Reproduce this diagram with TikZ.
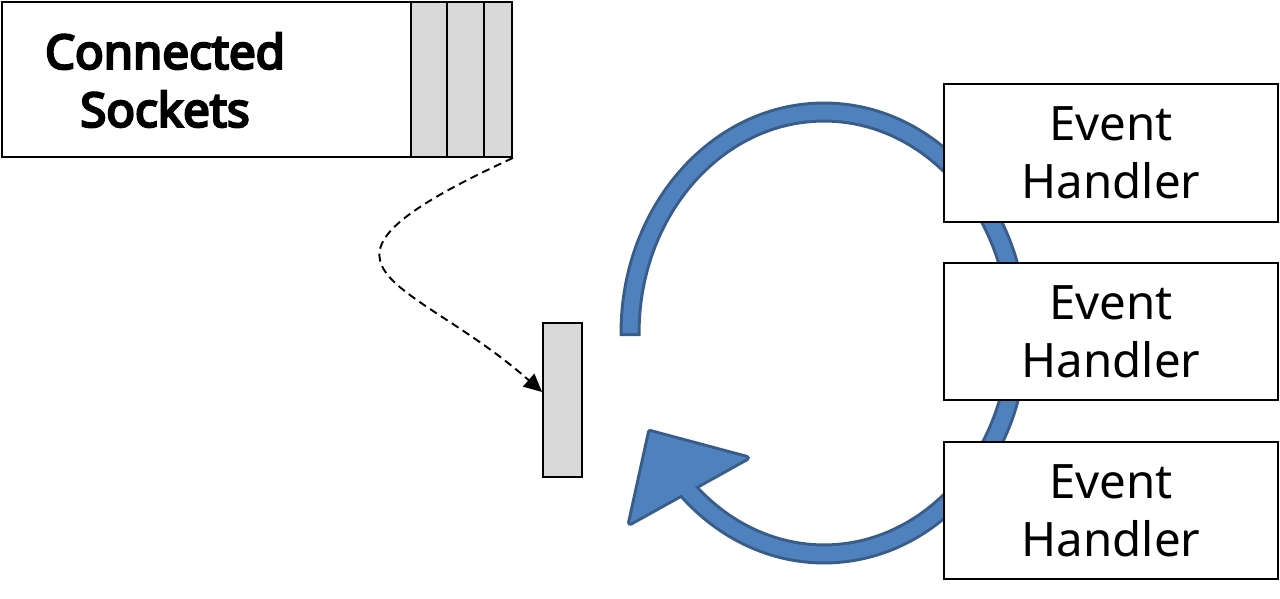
\documentclass[tikz,border=0pt]{standalone}
\usepackage{fontspec}
\setmainfont{Noto Sans}
\newfontfamily\sockfont{Noto Sans}[FakeBold=5]
\usetikzlibrary{positioning, arrows.meta}
\definecolor{celdagris}{HTML}{D9D9D9}
\definecolor{anillo}{HTML}{4F81BD}
\definecolor{anilloborde}{HTML}{385D8A}
\tikzset{
  sockbox/.style={rectangle, draw=black, line width=1.1pt, fill=white, minimum width=10.2cm, minimum height=3.1cm, inner sep=0pt},
  cell/.style={rectangle, draw=black, line width=1.1pt, fill=celdagris, minimum height=3.1cm, inner sep=0pt},
  queue/.style={rectangle, draw=black, line width=1.1pt, fill=celdagris, minimum width=0.78cm, minimum height=3.08cm, inner sep=0pt},
  handler/.style={rectangle, draw=black, line width=1.1pt, fill=white, minimum width=6.68cm, minimum height=2.75cm, align=center, font=\fontsize{27}{33}\selectfont},
  dasharrow/.style={line width=1.1pt, dash pattern=on 0.16cm off 0.1cm, -{Triangle[length=0.36cm, width=0.34cm]}}
}
\begin{document}
\begin{tikzpicture}[x=0.02cm, y=0.02cm]
    \useasboundingbox (0,0) rectangle (1280,598);

    % --- ANILLO DEL EVENT LOOP ---
    \coordinate (ringc) at (824,265);
    \coordinate (punta) at (650,166);
    \coordinate (base1) at (747,140);
    \coordinate (base2) at (630,75);

    % Borde oscuro (arco y punta)
    \draw[anilloborde, line width=0.42cm] ([shift={(180.8:3.88cm and 4.42cm)}]ringc) arc[start angle=180.8, end angle=-140, x radius=3.88cm, y radius=4.42cm];
    \filldraw[anilloborde, line width=0.12cm, line join=round] (punta) -- (base1) -- (base2) -- cycle;
    % Relleno azul
    \draw[anillo, line width=0.30cm] ([shift={(180:3.88cm and 4.42cm)}]ringc) arc[start angle=180, end angle=-140, x radius=3.88cm, y radius=4.42cm];
    \fill[anillo] (punta) -- (base1) -- (base2) -- cycle;

    % --- EVENT HANDLERS ---
    \foreach \n/\y in {1/445, 2/266.5, 3/87.5}
        \node[handler] (handler\n) at (1111,\y) {Event\\Handler};

    % --- SOCKETS CONECTADOS ---
    \node[sockbox] (sockets) at (257,518.5) {};
    \node[cell, minimum width=0.72cm] (cell1) at (429,518.5) {};
    \node[cell, minimum width=0.74cm] (cell2) at (465.5,518.5) {};
    \node[cell, minimum width=0.56cm] (cell3) at (498,518.5) {};
    \node[font=\sockfont\fontsize{27}{33}\selectfont, align=center] (socklabel) at (165,518) {Connected\\Sockets};

    % Cola de eventos
    \node[queue] (queue) at (562.5,198) {};

    % Conexion punteada
    \draw[dasharrow] (sockets.south east) .. controls (270,328) and (410,323) .. ([yshift=0.16cm]queue.west);

\end{tikzpicture}
\end{document}
